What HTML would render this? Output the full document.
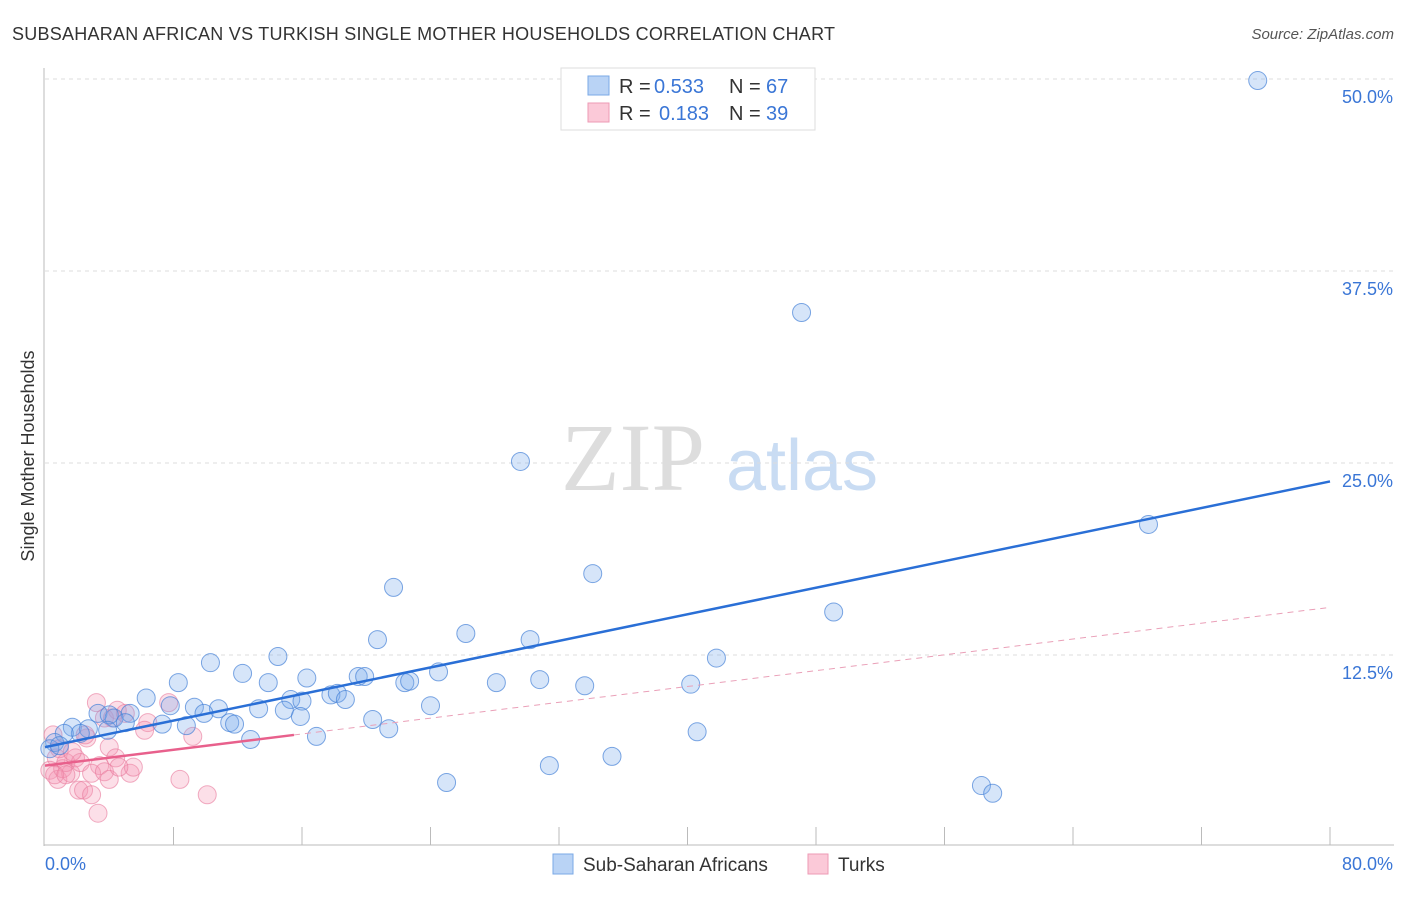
<!DOCTYPE html>
<html><head><meta charset="utf-8"><style>
body{margin:0;background:#fff;font-family:"Liberation Sans",sans-serif;}
</style></head><body>
<svg width="1406" height="892" xmlns="http://www.w3.org/2000/svg">
<text x="12" y="40" font-size="18" fill="#333" textLength="823">SUBSAHARAN AFRICAN VS TURKISH SINGLE MOTHER HOUSEHOLDS CORRELATION CHART</text>
<text x="1394" y="39" font-size="15" fill="#555" font-style="italic" text-anchor="end">Source: ZipAtlas.com</text>
<text transform="translate(34,456) rotate(-90)" font-size="18" fill="#333" text-anchor="middle">Single Mother Households</text>
<g>
<text x="633" y="490" font-size="96" font-family="Liberation Serif,serif" fill="#ddd" text-anchor="middle">ZIP</text>
<text x="802" y="490" font-size="72" fill="#c9dcf3" text-anchor="middle">atlas</text>
</g>
<g id="grid"></g><g id="axes"></g><g id="marks"></g>
<g>
<rect x="561" y="68" width="254" height="62" fill="#fff" stroke="#ddd"/>
<rect x="588" y="76" width="21" height="19" fill="#b9d3f5" stroke="#7aa8e6"/>
<text x="619" y="93" font-size="20" fill="#333">R =</text>
<text x="654" y="93" font-size="20" fill="#3a76d6">0.533</text>
<text x="729" y="93" font-size="20" fill="#333">N =</text>
<text x="766" y="93" font-size="20" fill="#3a76d6">67</text>
<rect x="588" y="103" width="21" height="19" fill="#fbc9d8" stroke="#ee9ab5"/>
<text x="619" y="120" font-size="20" fill="#333">R =</text>
<text x="659" y="120" font-size="20" fill="#3a76d6">0.183</text>
<text x="729" y="120" font-size="20" fill="#333">N =</text>
<text x="766" y="120" font-size="20" fill="#3a76d6">39</text>
</g>
<g>
<rect x="553" y="854" width="20" height="20" fill="#b9d3f5" stroke="#7aa8e6"/>
<text x="583" y="871" font-size="19" fill="#333">Sub-Saharan Africans</text>
<rect x="808" y="854" width="20" height="20" fill="#fbc9d8" stroke="#ee9ab5"/>
<text x="838" y="871" font-size="19" fill="#333">Turks</text>
</g>
</svg>
<script>
const yTicks=[12.5,25.0,37.5,50.0];
const xLabels=["0.0%","80.0%"];
const blueX=[75.5,47.1,29.6,68.7,21.7,34.1,49.1,20.7,26.2,30.2,10.3,14.5,41.8,12.3,16.3,19.5,19.9,24.5,8.3,13.9,22.4,22.7,28.1,30.8,33.6,40.2,6.3,9.3,10.8,13.3,15.3,16.0,17.8,18.2,18.7,14.9,15.9,24.0,9.9,11.5,11.8,20.4,21.4,7.8,8.8,5.3,7.3,3.3,4.3,5.0,4.0,1.7,2.7,2.2,1.2,0.6,0.3,0.9,12.8,16.9,40.6,35.3,31.4,25.0,58.3,59.0,3.9];
const blueY=[49.9,34.8,25.1,21.0,16.9,17.8,15.3,13.5,13.9,13.5,12.0,12.4,12.3,11.3,11.0,11.1,11.1,11.4,10.7,10.7,10.7,10.8,10.7,10.9,10.5,10.6,9.7,9.1,9.0,9.0,9.6,9.5,9.9,10.0,9.6,8.9,8.5,9.2,8.7,8.1,8.0,8.3,7.7,9.2,7.9,8.7,8.0,8.7,8.4,8.1,8.6,7.8,7.7,7.4,7.4,6.8,6.4,6.6,7.0,7.2,7.5,5.9,5.3,4.2,4.0,3.5,7.6];
const pinkX=[0.5,0.7,0.3,0.8,1.1,1.6,1.3,1.9,2.2,3.2,3.7,2.6,4.0,3.4,4.4,2.9,3.7,4.0,2.1,2.4,2.9,3.3,5.3,5.5,4.6,6.4,6.2,7.7,9.2,8.4,10.1,4.5,5.0,2.5,4.2,0.9,1.7,0.6,1.3];
const pinkY=[7.3,5.8,5.0,4.4,5.1,4.8,5.5,5.8,5.5,9.4,8.4,7.1,6.5,5.3,5.8,4.8,4.9,4.4,3.7,3.7,3.4,2.2,4.8,5.2,5.2,8.1,7.6,9.4,7.2,4.4,3.4,8.9,8.7,7.3,8.4,6.4,6.2,4.7,4.7];
const blueTrend=[6.5,23.8];
const pinkTrend=[5.3,15.6];
const pinkSolidEnd=15.5;
const NS="http://www.w3.org/2000/svg";
const X=v=>45+v/80*1285, Y=v=>847-v/12.5*192;
function mk(t,a,p){const e=document.createElementNS(NS,t);for(const k in a)e.setAttribute(k,a[k]);p.appendChild(e);return e;}
const grid=document.getElementById('grid'),axes=document.getElementById('axes'),marks=document.getElementById('marks');
yTicks.forEach(t=>{
 const l=mk('line',{x1:45,x2:1394,y1:Y(t),y2:Y(t),stroke:'#ddd','stroke-dasharray':'4,4'},grid);
 
 
 const tx=mk('text',{x:1393,y:Y(t)+24,'font-size':18,fill:'#3a76d6','text-anchor':'end'},axes);
 tx.textContent=t.toFixed(1)+'%';
 
 
});
mk('line',{x1:44,x2:44,y1:68,y2:846,stroke:'#bbb'},axes);
mk('line',{x1:44,x2:1394,y1:845,y2:845,stroke:'#bbb'},axes);
for(let i=1;i<=10;i++){const x=X(i*8);mk('line',{x1:x,x2:x,y1:827,y2:845,stroke:'#bbb'},axes);}
[[0,xLabels[0],'start',45],[80,xLabels[1],'end',1393]].forEach(([v,s,a,x])=>{
 const t=mk('text',{x:x,y:870,'font-size':18,fill:'#3a76d6','text-anchor':a},axes);t.textContent=s;
 
 
});
pinkX.forEach((v,i)=>{const c=mk('circle',{cx:X(v),cy:Y(pinkY[i]),r:9,fill:'rgba(244,150,178,0.3)',stroke:'rgba(232,120,155,0.6)'},marks);
 
 });
blueX.forEach((v,i)=>{const c=mk('circle',{cx:X(v),cy:Y(blueY[i]),r:9,fill:'rgba(120,170,235,0.3)',stroke:'rgba(70,130,215,0.7)'},marks);
 
 });
const bl=mk('line',{x1:X(0),y1:Y(blueTrend[0]),x2:X(80),y2:Y(blueTrend[1]),stroke:'#2a6fd6','stroke-width':2.5},marks);


const pAt=v=>pinkTrend[0]+(pinkTrend[1]-pinkTrend[0])*v/80;
const pl=mk('line',{x1:X(0),y1:Y(pAt(0)),x2:X(pinkSolidEnd),y2:Y(pAt(pinkSolidEnd)),stroke:'#e8608c','stroke-width':2.5},marks);


const pd=mk('line',{x1:X(pinkSolidEnd),y1:Y(pAt(pinkSolidEnd)),x2:X(80),y2:Y(pAt(80)),stroke:'#eaa0b8','stroke-width':1,'stroke-dasharray':'6,5'},marks);


</script>
</body></html>
